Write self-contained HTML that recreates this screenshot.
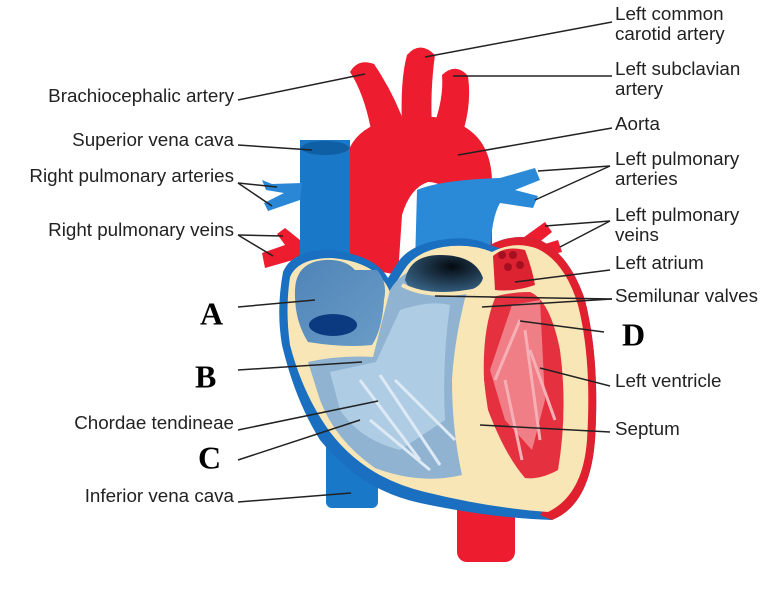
<!DOCTYPE html>
<html><head><meta charset="utf-8"><style>
html,body{margin:0;padding:0;background:#fff;}
svg{display:block;}
text{font-family:"Liberation Sans",sans-serif;font-size:18.8px;fill:#222;dominant-baseline:middle;}
.big{font-family:"Liberation Serif",serif;font-weight:bold;font-size:32px;fill:#000;}
line{stroke:#222;stroke-width:1.5;}
</style></head><body>
<svg width="773" height="590" viewBox="0 0 773 590">
<defs>
<radialGradient id="pv" cx="0.6" cy="0.3" r="0.8"><stop offset="0" stop-color="#050a10"/><stop offset="1" stop-color="#3d6d93"/></radialGradient>
<linearGradient id="ra" x1="0" y1="0" x2="1" y2="1"><stop offset="0" stop-color="#4f84b8"/><stop offset="1" stop-color="#6a9cc6"/></linearGradient>
</defs>
<!-- descending aorta -->
<rect x="457" y="490" width="58" height="72" rx="10" fill="#ed1c2e"/>
<!-- aorta branches -->
<path d="M372,135 Q365,95 350,72 Q358,58 374,64 Q395,95 406,128 Z" fill="#ed1c2e"/>
<path d="M402,128 Q400,80 407,55 Q420,40 435,55 Q430,90 432,128 Z" fill="#ed1c2e"/>
<path d="M432,130 Q444,100 442,75 Q456,62 468,76 Q472,105 462,135 Z" fill="#ed1c2e"/>
<!-- aorta arch -->
<path d="M345,265 L345,165 Q350,118 420,116 Q490,118 492,180 L492,245 L455,245 L452,200 Q445,182 428,182 Q410,188 402,215 L398,275 Z" fill="#ed1c2e"/>
<!-- SVC -->
<rect x="300" y="140" width="50" height="130" fill="#1a78c8"/>
<ellipse cx="325" cy="148" rx="24" ry="7" fill="#0f5fa5"/>
<!-- right pulmonary arteries -->
<path d="M302,183 L272,184 L262,180 L266,190 L284,193 L264,203 L268,211 L300,200 Z" fill="#2a87d6"/>
<!-- right pulmonary veins -->
<path d="M300,240 L285,228 L277,234 L285,245 L262,253 L265,268 L300,258 Z" fill="#ed1c2e"/>
<!-- pulmonary trunk -->
<path d="M415,265 L417,190 Q440,180 500,178 L535,168 L540,180 L515,190 L538,196 L533,208 L500,203 Q490,220 490,265 Z" fill="#2a8ad8"/>
<!-- left pulmonary veins -->
<path d="M520,240 L545,222 L552,232 L532,248 L558,240 L562,252 L530,260 Z" fill="#ed1c2e"/>
<!-- IVC -->
<rect x="326" y="420" width="52" height="88" rx="6" fill="#1a78c8"/>
<!-- heart outline: blue base -->
<path d="M283,272 Q276,310 282,345 Q295,400 320,440 Q360,490 420,503 Q490,518 552,520 Q590,505 595,440 Q600,360 585,300 Q570,255 540,240 Q515,232 490,245 Q470,235 440,240 Q410,245 398,262 L388,278 Q375,255 330,250 Q292,250 283,272 Z" fill="#1a6fc0"/>
<!-- red right part -->
<path d="M490,245 Q515,232 540,240 Q570,255 585,300 Q600,360 595,440 Q590,505 552,520 L540,515 Q575,470 572,390 Q565,300 520,255 Z" fill="#e0202f"/>
<!-- cream body -->
<path d="M290,277 Q285,310 290,345 Q303,395 330,432 Q365,478 425,492 Q490,508 548,512 Q583,495 587,440 Q592,360 578,305 Q565,262 538,249 Q515,240 492,252 Q470,243 443,247 Q415,252 404,270 L390,292 Q378,262 332,258 Q298,258 290,277 Z" fill="#f8e6b6"/>
<!-- right atrium -->
<path d="M295,290 Q296,262 325,260 Q345,259 355,270 L377,270 Q388,282 384,300 Q382,330 372,345 Q345,348 308,342 Q294,320 295,290 Z" fill="url(#ra)"/>
<ellipse cx="333" cy="325" rx="24" ry="11" fill="#0b3a80"/>
<!-- right ventricle -->
<path d="M308,362 Q340,355 373,357 L390,290 Q400,273 420,267 L470,282 Q455,330 452,380 Q452,430 462,475 Q420,485 375,468 Q335,440 320,400 Z" fill="#8fb3d0"/>
<path d="M330,372 L376,362 L400,310 Q430,300 450,305 Q442,360 445,420 L400,450 Q360,440 340,410 Z" fill="#b6d2ea" opacity="0.8"/>
<path d="M360,380 L420,460 M380,375 L440,465 M395,380 L455,440 M370,420 L430,470" stroke="#dde9f4" stroke-width="3" fill="none"/>
<!-- pulmonary valve -->
<path d="M405,280 Q410,255 440,255 Q475,255 483,278 Q480,290 460,292 Q435,296 410,290 Z" fill="url(#pv)"/>
<path d="M402,285 Q430,300 478,290" stroke="#f8e6b6" stroke-width="4" fill="none"/>
<!-- left atrium -->
<path d="M493,256 Q505,245 525,250 Q532,268 535,285 Q515,292 495,290 Z" fill="#dd2232"/>
<circle cx="502" cy="255" r="4" fill="#a51020"/><circle cx="513" cy="255" r="4" fill="#a51020"/><circle cx="520" cy="265" r="4" fill="#a51020"/><circle cx="508" cy="267" r="4" fill="#a51020"/>
<!-- left ventricle -->
<path d="M485,300 Q505,292 530,292 Q550,300 560,350 Q568,410 558,470 Q540,480 525,478 Q505,455 488,410 Q478,350 485,300 Z" fill="#e5303f"/>
<path d="M512,305 L540,300 L545,400 L532,450 L505,420 L490,370 Z" fill="#f4a0a6" opacity="0.7"/>
<path d="M520,320 L495,380 M525,330 L540,440 M530,350 L555,420 M505,380 L522,460" stroke="#f6b0b5" stroke-width="3" fill="none"/>
<!-- septum cream -->
<path d="M465,298 Q450,360 457,420 Q465,460 478,487 L510,490 Q488,430 484,380 Q482,330 495,298 Z" fill="#f8e6b6"/>

<!-- leader lines right -->
<line x1="612" y1="22" x2="425" y2="57"/>
<line x1="612" y1="76" x2="453" y2="76"/>
<line x1="612" y1="128" x2="458" y2="155"/>
<line x1="610" y1="166" x2="538" y2="171"/>
<line x1="610" y1="166" x2="535" y2="200"/>
<line x1="610" y1="221" x2="545" y2="226"/>
<line x1="610" y1="221" x2="560" y2="247"/>
<line x1="610" y1="270" x2="515" y2="282"/>
<line x1="612" y1="299" x2="435" y2="296"/>
<line x1="612" y1="299" x2="482" y2="307"/>
<line x1="604" y1="332" x2="520" y2="321"/>
<line x1="610" y1="386" x2="540" y2="368"/>
<line x1="610" y1="432" x2="480" y2="425"/>
<!-- leader lines left -->
<line x1="238" y1="100" x2="365" y2="74"/>
<line x1="238" y1="145" x2="312" y2="150"/>
<line x1="238" y1="183" x2="277" y2="187"/>
<line x1="238" y1="183" x2="272" y2="206"/>
<line x1="238" y1="235" x2="283" y2="236"/>
<line x1="238" y1="235" x2="273" y2="256"/>
<line x1="238" y1="307" x2="315" y2="300"/>
<line x1="238" y1="370" x2="362" y2="362"/>
<line x1="238" y1="430" x2="378" y2="401"/>
<line x1="238" y1="460" x2="360" y2="420"/>
<line x1="238" y1="502" x2="351" y2="493"/>

<!-- labels right -->
<text x="615" y="15">Left common</text>
<text x="615" y="35">carotid artery</text>
<text x="615" y="70">Left subclavian</text>
<text x="615" y="90">artery</text>
<text x="615" y="125">Aorta</text>
<text x="615" y="160">Left pulmonary</text>
<text x="615" y="180">arteries</text>
<text x="615" y="216">Left pulmonary</text>
<text x="615" y="236">veins</text>
<text x="615" y="264">Left atrium</text>
<text x="615" y="297">Semilunar valves</text>
<text x="622" y="338" class="big">D</text>
<text x="615" y="382">Left ventricle</text>
<text x="615" y="430">Septum</text>
<!-- labels left -->
<g text-anchor="end">
<text x="234" y="97">Brachiocephalic artery</text>
<text x="234" y="141">Superior vena cava</text>
<text x="234" y="177">Right pulmonary arteries</text>
<text x="234" y="231">Right pulmonary veins</text>
<text x="234" y="424">Chordae tendineae</text>
<text x="234" y="497">Inferior vena cava</text>
</g>
<text x="200" y="317" class="big">A</text>
<text x="195" y="380" class="big">B</text>
<text x="198" y="461" class="big">C</text>
</svg>
</body></html>
